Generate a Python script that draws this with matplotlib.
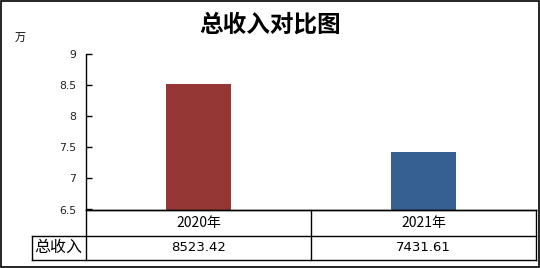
import matplotlib
matplotlib.use("Agg")
import matplotlib.pyplot as plt
from matplotlib.lines import Line2D
from matplotlib.patches import Rectangle

plt.rcParams['font.family'] = ['Noto Sans CJK SC', 'DejaVu Sans']

title = "总收入对比图"
unit = "万"
categories = ["2020年", "2021年"]
values = [8.52342, 7.43161]
table_values = ["8523.42", "7431.61"]
row_label = "总收入"
colors = ["#953735", "#376092"]
yticks = [6.5, 7, 7.5, 8, 8.5, 9]
ytick_labels = ["6.5", "7", "7.5", "8", "8.5", "9"]

W, H = 540, 268
fig = plt.figure(figsize=(W / 100, H / 100), dpi=100)


def fx(x):
    return x / W


def fy(y):
    return 1 - y / H


# axes region in pixels
ax_l, ax_r, ax_t, ax_b = 86, 536, 54, 209.5
ax = fig.add_axes([fx(ax_l), fy(ax_b), fx(ax_r) - fx(ax_l), fy(ax_t) - fy(ax_b)])
x = list(range(len(categories)))
ax.bar(x, [v - 6.5 for v in values], bottom=6.5, width=0.29, color=colors)
ax.set_xlim(-0.5, len(categories) - 0.5)
ax.set_ylim(6.5, 9)
ax.set_yticks(yticks)
ax.set_yticklabels(ytick_labels, family='DejaVu Sans', fontsize=7.8, color='#222222')
ax.tick_params(axis='y', direction='in', length=4, width=1, pad=7)
ax.set_xticks([])
for s in ['top', 'right']:
    ax.spines[s].set_visible(False)
ax.spines['left'].set_linewidth(1)
ax.spines['bottom'].set_linewidth(1)

# table
t_top, t_mid, t_bot = 209.5, 235.5, 260
lbl_l = 31.5
lines = [
    ((ax_l, ax_r), (t_top, t_top)),
    ((lbl_l, ax_r), (t_mid, t_mid)),
    ((lbl_l, ax_r), (t_bot, t_bot)),
    ((lbl_l, lbl_l), (t_mid, t_bot)),
    ((ax_l, ax_l), (t_top, t_bot)),
    ((ax_r, ax_r), (t_top, t_bot)),
]
ncat = len(categories)
cw = (ax_r - ax_l) / ncat
for i in range(1, ncat):
    xx = ax_l + i * cw
    lines.append(((xx, xx), (t_top, t_bot)))
for xs, ys in lines:
    fig.add_artist(Line2D([fx(v) for v in xs], [fy(v) for v in ys], color='black', lw=1))

for i, (c, v) in enumerate(zip(categories, table_values)):
    cx = ax_l + (i + 0.5) * cw
    fig.text(fx(cx), fy((t_top + t_mid) / 2 + 0.5), c, ha='center', va='center', fontsize=10)
    fig.text(fx(cx), fy((t_mid + t_bot) / 2), v, ha='center', va='center', fontsize=9.5,
             family=['DejaVu Sans'])
fig.text(fx((lbl_l + ax_l) / 2), fy((t_mid + t_bot) / 2), row_label, ha='center', va='center',
         fontsize=11.5, fontweight='light')

# title and unit
fig.text(fx(270), fy(25), title, ha='center', va='center', fontsize=17, fontweight='bold')
fig.text(fx(20.5), fy(38), unit, ha='center', va='center', fontsize=8)

# outer border
fig.add_artist(Rectangle((fx(1), fy(266.5)), fx(538.5) - fx(1), fy(1) - fy(266.5),
                         fill=False, edgecolor='black', lw=1.2, transform=fig.transFigure))

fig.savefig("out.png", dpi=100)
